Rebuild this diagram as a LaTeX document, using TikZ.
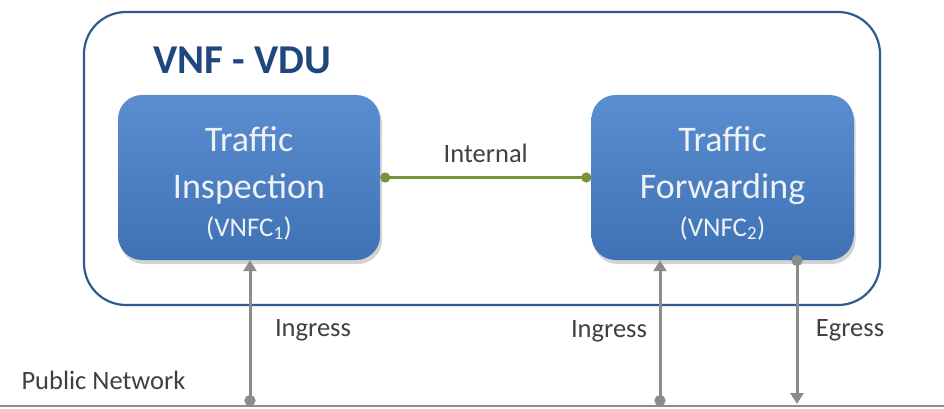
\documentclass[tikz,border=0pt]{standalone}
\usepackage{fontspec}
\setmainfont{Carlito}
\usetikzlibrary{arrows.meta,shadows}

\definecolor{vduline}{HTML}{2F5B8F}
\definecolor{vdutitle}{HTML}{1F467F}
\definecolor{boxtop}{HTML}{5A8ED0}
\definecolor{boxbottom}{HTML}{3E72B4}
\definecolor{boxtext}{HTML}{EEF1F6}
\definecolor{internal}{HTML}{77933C}
\definecolor{flow}{HTML}{8C8C8C}
\definecolor{labeltext}{HTML}{404040}

\begin{document}
\begin{tikzpicture}[x=1pt,y=-1pt,
	vdu/.style={draw=vduline, line width=2.2pt, rounded corners=42pt, minimum width=796pt, minimum height=293pt},
	vnfc/.style={rounded corners=24pt, minimum width=262pt, minimum height=165pt, top color=boxtop, bottom color=boxbottom, text=boxtext, align=center, font=\fontsize{36}{47}\selectfont, drop shadow={shadow xshift=2pt, shadow yshift=-4pt, opacity=0.35}},
	lbl/.style={text=labeltext, font=\fontsize{26.5}{30}\selectfont},
	flowarrow/.style={draw=flow, line width=3pt, {Circle[length=11pt]}-{Triangle[width=13pt,length=11pt]}},
	]
	\useasboundingbox (0,0) rectangle (944,409);

	\node[vdu] (vdu) at (482,158.5) {};
	\node[anchor=west, text=vdutitle, font=\fontsize{41}{48}\selectfont\bfseries] (title) at (150,60) {VNF - VDU};

	\node[vnfc] (insp) at (249,177.5) {\rule{0pt}{36pt}Traffic\\Inspection\\[-9pt]{\fontsize{27}{32}\selectfont (VNFC\textsubscript{1})}};
	\node[vnfc] (fwd) at (722.5,177.5) {\rule{0pt}{36pt}Traffic\\Forwarding\\[-9pt]{\fontsize{27}{32}\selectfont (VNFC\textsubscript{2})}};

	\draw[draw=internal, line width=3pt, {Circle[length=10pt]}-{Circle[length=10pt]}] (insp.east) -- (fwd.west) node[midway, above=10pt, lbl] (intlbl) {Internal};

	\coordinate (netL) at (0,406);
	\coordinate (netR) at (944,406);
	\draw[draw=flow, line width=2pt] (netL) -- (netR);
	\node[lbl, anchor=west] (pub) at (18,380) {Public Network};

	\coordinate (in1) at (250,406);
	\coordinate (in2) at (660,406);
	\coordinate (eg) at (797,255);
	\coordinate (egend) at (797,404);

	\draw[flowarrow] (in1) -- (in1 |- insp.south);
	\draw[flowarrow] (in2) -- (in2 |- fwd.south);
	\draw[flowarrow] (eg) -- (egend);

	\node[lbl] (ing1) at (313,330) {Ingress};
	\node[lbl] (ing2) at (609,331) {Ingress};
	\node[lbl] (egl) at (850,330) {Egress};

\end{tikzpicture}
\end{document}
